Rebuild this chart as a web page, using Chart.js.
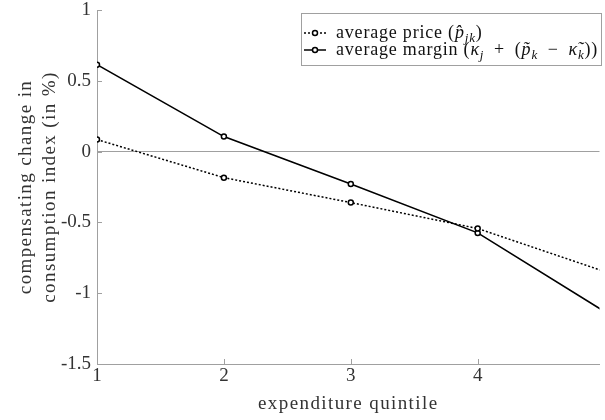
<!DOCTYPE html>
<html>
<head>
<meta charset="utf-8">
<script src="https://cdn.jsdelivr.net/npm/chart.js@4.4.1/dist/chart.umd.min.js"></script>
<style>
  html, body { margin: 0; padding: 0; background: #fff; }
  #wrap { width: 605px; height: 420px; }
</style>
</head>
<body>
<div id="wrap"><canvas id="chart"></canvas></div>
<script>
// Données
const quintiles = [1, 2, 3, 4, 5];
const avgPrice = [0.085, -0.184, -0.36, -0.543, -0.847];
const avgMargin = [0.614, 0.106, -0.228, -0.574, -1.13];
const xTicks = [1, 2, 3, 4];
const yTicks = [-1.5, -1, -0.5, 0, 0.5, 1];
const seriesLabels = ["average price (p̂jk)", "average margin (κj + (p̃k − κ̃k))"];

const FONT = '"Liberation Serif", "Times New Roman", serif';
const TEXT = "#333";
const AXIS = "#a0a0a0";

// Légende en texte mathématique (italique + indices)
const legendRuns = [
  [{ t: "average price (" }, { t: "p\u0302", it: true }, { t: "jk", it: true, sub: true }, { t: ")" }],
  [
    { t: "average margin (" }, { t: "κ", it: true }, { t: "j", it: true, sub: true },
    { t: "\u2002+\u2002(" }, { t: "p\u0303", it: true }, { t: "k", it: true, sub: true },
    { t: "\u2002−\u2002" }, { t: "κ\u0303", it: true }, { t: "k", it: true, sub: true }, { t: "))" },
  ],
];

function drawRuns(ctx, x, y, runs, size) {
  ctx.textBaseline = "alphabetic";
  ctx.textAlign = "left";
  for (const r of runs) {
    const s = r.sub ? Math.round(size * 0.72) : size;
    ctx.font = `${r.it ? "italic " : ""}${s}px ${FONT}`;
    ctx.fillText(r.t, x, y + (r.sub ? size * 0.22 : 0));
    x += ctx.measureText(r.t).width;
  }
}

// Espacement des lettres pour les titres d'axes (police plus large dans l'original)
const spacingPlugin = {
  id: "spacing",
  beforeDraw(chart) {
    for (const s of Object.values(chart.scales)) {
      if (s._spaced) continue;
      const orig = s.drawTitle.bind(s);
      s.drawTitle = function (...args) {
        const c = this.ctx;
        c.save();
        c.letterSpacing = "1.4px";
        orig(...args);
        c.restore();
      };
      s._spaced = true;
    }
  },
};

const decorPlugin = {
  id: "decor",
  afterDraw(chart) {
    const ctx = chart.ctx;
    const area = chart.chartArea;
    const xs = chart.scales.x;
    const ys = chart.scales.y;
    ctx.save();
    // petites graduations vers l'intérieur
    ctx.strokeStyle = AXIS;
    ctx.lineWidth = 1;
    ctx.beginPath();
    for (const v of xTicks) {
      const px = Math.round(xs.getPixelForValue(v)) + 0.5;
      ctx.moveTo(px, area.bottom);
      ctx.lineTo(px, area.bottom - 5);
    }
    for (const v of yTicks) {
      const py = Math.round(ys.getPixelForValue(v)) + 0.5;
      ctx.moveTo(area.left, py);
      ctx.lineTo(area.left + 5, py);
    }
    ctx.stroke();

    // cadre de la légende
    const bx = 301.5, by = 13.5, bw = 300, bh = 52;
    ctx.fillStyle = "#fff";
    ctx.fillRect(bx, by, bw, bh);
    ctx.strokeStyle = AXIS;
    ctx.strokeRect(bx, by, bw, bh);

    const rows = [33, 50];
    chart.data.datasets.forEach((ds, i) => {
      const yy = rows[i];
      ctx.strokeStyle = "#000";
      ctx.lineWidth = 1.5;
      ctx.setLineDash(ds.borderDash || []);
      ctx.beginPath();
      ctx.moveTo(304, yy);
      ctx.lineTo(326, yy);
      ctx.stroke();
      ctx.setLineDash([]);
      ctx.fillStyle = "#fff";
      ctx.beginPath();
      ctx.arc(315, yy, 2.5, 0, Math.PI * 2);
      ctx.fill();
      ctx.stroke();
      ctx.fillStyle = "#111";
      ctx.letterSpacing = "0.8px";
      drawRuns(ctx, 336, yy + 5, legendRuns[i], 18);
      ctx.letterSpacing = "0px";
    });
    ctx.restore();
  },
};

new Chart(document.getElementById("chart"), {
  type: "line",
  data: {
    datasets: [
      {
        label: seriesLabels[0],
        data: quintiles.map((q, i) => ({ x: q, y: avgPrice[i] })),
        borderColor: "#000",
        borderWidth: 1.5,
        borderDash: [2, 2],
        pointRadius: 2.5,
        pointBorderWidth: 1.5,
        pointBorderColor: "#000",
        pointBackgroundColor: "#fff",
      },
      {
        label: seriesLabels[1],
        data: quintiles.map((q, i) => ({ x: q, y: avgMargin[i] })),
        borderColor: "#000",
        borderWidth: 1.6,
        pointRadius: 2.5,
        pointBorderWidth: 1.5,
        pointBorderColor: "#000",
        pointBackgroundColor: "#fff",
      },
    ],
  },
  options: {
    responsive: true,
    maintainAspectRatio: false,
    animation: false,
    layout: { padding: 0 },
    plugins: {
      legend: { display: false },
      tooltip: { enabled: false },
    },
    scales: {
      x: {
        type: "linear",
        min: 1,
        max: 4.96,
        afterBuildTicks: (s) => { s.ticks = xTicks.map((v) => ({ value: v })); },
        afterFit: (s) => { s.height = 56; },
        grid: { display: false, drawTicks: false },
        border: { display: true, color: AXIS, width: 1 },
        ticks: {
          color: TEXT,
          padding: 1,
          font: { family: FONT, size: 19 },
          maxRotation: 0,
        },
        title: {
          display: true,
          text: "expenditure quintile",
          color: TEXT,
          font: { family: FONT, size: 19 },
          padding: { top: 0, bottom: 5 },
        },
      },
      y: {
        min: -1.5,
        max: 1,
        afterBuildTicks: (s) => { s.ticks = yTicks.map((v) => ({ value: v })); },
        afterFit: (s) => { s.width = 97; s.paddingTop = 10; s.paddingBottom = 0; },
        grid: {
          drawTicks: false,
          color: (c) => (c.tick && c.tick.value === 0 ? AXIS : "rgba(0,0,0,0)"),
          lineWidth: 1,
        },
        border: { display: true, color: AXIS, width: 1 },
        ticks: {
          color: TEXT,
          padding: 6,
          font: { family: FONT, size: 19 },
          callback: (v) => String(v),
        },
        title: {
          display: true,
          text: ["compensating change in", "consumption index (in %)"],
          color: TEXT,
          font: { family: FONT, size: 19, lineHeight: 1.25 },
          padding: { top: 14, bottom: 0 },
        },
      },
    },
  },
  plugins: [spacingPlugin, decorPlugin],
});
</script>
</body>
</html>
